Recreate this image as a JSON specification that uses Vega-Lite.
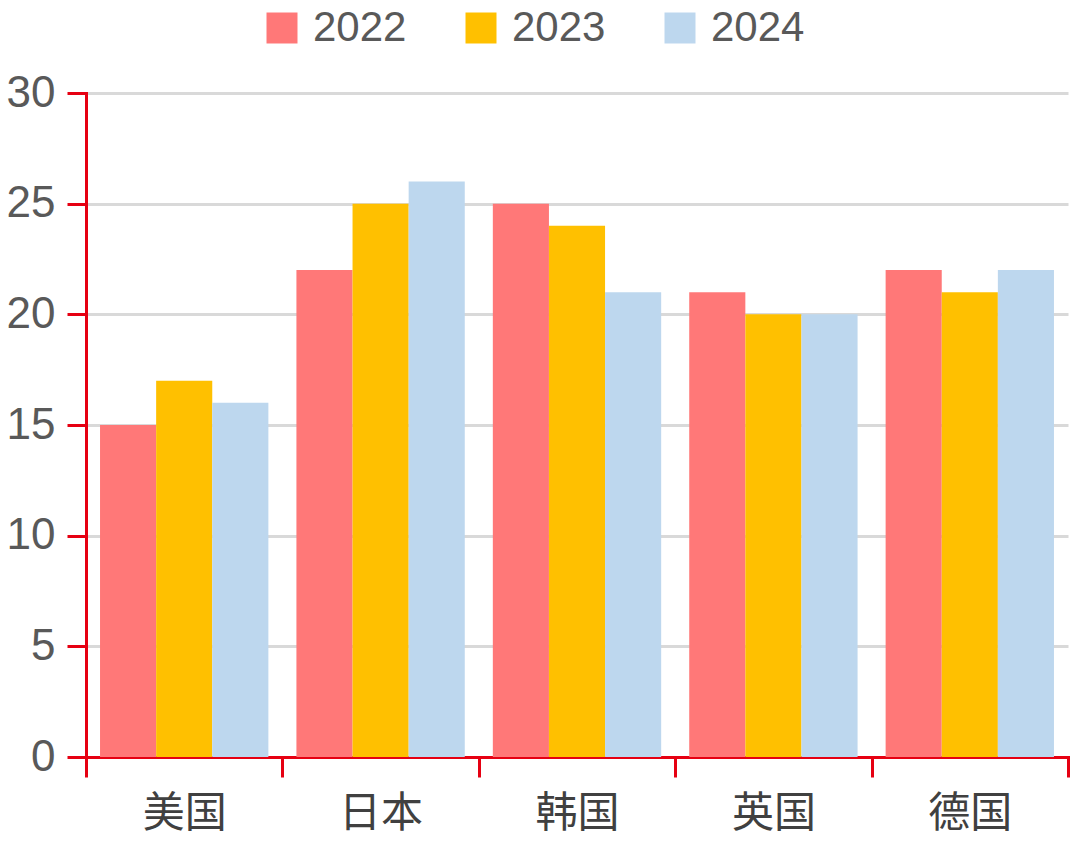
{
  "$schema": "https://vega.github.io/schema/vega-lite/v6.json",
  "autosize": {"type": "none"},
  "padding": {"left": 86, "top": 93, "right": 12, "bottom": 91},
  "width": 982,
  "height": 664,
  "background": "#ffffff",
  "data": {
    "values": [
      {"country": "美国", "year": "2022", "value": 15},
      {"country": "美国", "year": "2023", "value": 17},
      {"country": "美国", "year": "2024", "value": 16},
      {"country": "日本", "year": "2022", "value": 22},
      {"country": "日本", "year": "2023", "value": 25},
      {"country": "日本", "year": "2024", "value": 26},
      {"country": "韩国", "year": "2022", "value": 25},
      {"country": "韩国", "year": "2023", "value": 24},
      {"country": "韩国", "year": "2024", "value": 21},
      {"country": "英国", "year": "2022", "value": 21},
      {"country": "英国", "year": "2023", "value": 20},
      {"country": "英国", "year": "2024", "value": 20},
      {"country": "德国", "year": "2022", "value": 22},
      {"country": "德国", "year": "2023", "value": 21},
      {"country": "德国", "year": "2024", "value": 22}
    ]
  },
  "mark": {"type": "bar", "strokeWidth": 0},
  "encoding": {
    "x": {
      "field": "country",
      "type": "nominal",
      "sort": ["美国", "日本", "韩国", "英国", "德国"],
      "scale": {"paddingInner": 0, "paddingOuter": 0},
      "axis": {
        "title": null,
        "tickBand": "extent",
        "labelAngle": 0,
        "labelFont": "Noto Sans CJK SC",
        "labelFontSize": 42,
        "labelColor": "#404040",
        "labelPadding": 16,
        "domainColor": "#E60012",
        "domainWidth": 3,
        "tickColor": "#E60012",
        "tickWidth": 3,
        "tickSize": 20,
        "grid": false
      }
    },
    "xOffset": {
      "field": "year",
      "type": "nominal",
      "scale": {"paddingInner": 0, "paddingOuter": 0.25}
    },
    "y": {
      "field": "value",
      "type": "quantitative",
      "scale": {"domain": [0, 30], "nice": false},
      "axis": {
        "title": null,
        "values": [0, 5, 10, 15, 20, 25, 30],
        "labelFont": "Liberation Sans",
        "labelFontSize": 44,
        "labelColor": "#595959",
        "labelPadding": 12,
        "domainColor": "#E60012",
        "domainWidth": 3,
        "tickColor": "#E60012",
        "tickWidth": 3,
        "tickSize": 19,
        "grid": true,
        "gridColor": "#D9D9D9",
        "gridWidth": 3
      }
    },
    "color": {
      "field": "year",
      "type": "nominal",
      "scale": {"domain": ["2022", "2023", "2024"], "range": ["#FF7878", "#FFC000", "#BDD7EE"]},
      "legend": {
        "title": null,
        "orient": "none",
        "direction": "horizontal",
        "legendX": 175,
        "legendY": -86,
        "symbolType": "square",
        "symbolSize": 961,
        "symbolStrokeWidth": 0,
        "labelFont": "Liberation Sans",
        "labelFontSize": 42,
        "labelColor": "#595959",
        "labelOffset": 10,
        "columnPadding": 53,
        "padding": 0
      }
    }
  },
  "config": {
    "view": {"stroke": null},
    "axis": {"domainCap": "square"}
  }
}
